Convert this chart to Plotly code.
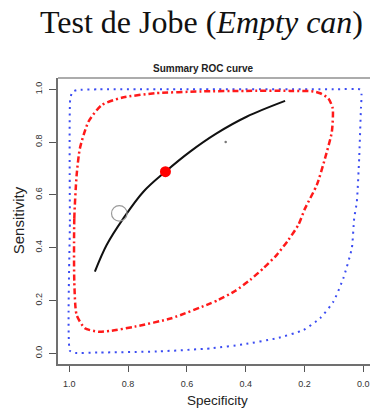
import plotly.graph_objects as go

# ---- data (specificity, sensitivity) ----
curve_spec = [0.913, 0.873, 0.816, 0.748, 0.673, 0.589, 0.499, 0.397, 0.266]
curve_sens = [0.309, 0.410, 0.511, 0.612, 0.688, 0.764, 0.833, 0.896, 0.956]

conf_spec = [0.983, 0.983, 0.975, 0.964, 0.935, 0.890, 0.822, 0.708, 0.550, 0.400, 0.250, 0.170,
             0.147, 0.119, 0.104, 0.107, 0.130, 0.158, 0.198, 0.221, 0.255, 0.295, 0.340, 0.385,
             0.436, 0.493, 0.522, 0.652, 0.777, 0.860, 0.901, 0.947, 0.975, 0.983]
conf_sens = [0.271, 0.511, 0.675, 0.776, 0.877, 0.940, 0.968, 0.985, 0.992, 0.994, 0.994, 0.992,
             0.985, 0.966, 0.928, 0.839, 0.739, 0.638, 0.549, 0.486, 0.429, 0.372, 0.322, 0.278,
             0.236, 0.202, 0.188, 0.133, 0.101, 0.085, 0.082, 0.095, 0.145, 0.271]

pred_spec = [0.998, 0.998, 0.997, 0.990, 0.975, 0.900, 0.500, 0.100, 0.010, 0.006, 0.008, 0.014,
             0.022, 0.031, 0.039, 0.068, 0.102, 0.147, 0.204, 0.295, 0.408, 0.516, 0.700, 0.900,
             0.985, 0.998]
pred_sens = [0.010, 0.500, 0.960, 0.990, 0.997, 1.000, 1.000, 1.000, 0.999, 0.980, 0.928, 0.739,
             0.574, 0.511, 0.398, 0.284, 0.195, 0.133, 0.088, 0.057, 0.034, 0.019, 0.007, 0.003,
             0.002, 0.010]

summary_point = (0.673, 0.688)
study_points_spec = [0.830, 0.468]
study_points_sens = [0.530, 0.800]

x_ticks = [1.0, 0.8, 0.6, 0.4, 0.2, 0.0]
y_ticks = [0.0, 0.2, 0.4, 0.6, 0.8, 1.0]

title_text = "Test de Jobe (<i>Empty can</i>)"
subtitle_text = "<b>Summary ROC curve</b>"
x_title = "Specificity"
y_title = "Sensitivity"

# ---- layout geometry ----
W, H = 370, 408
L, R, T, B = 58, 0, 78, 44
pw, ph = W - L - R, H - T - B


def px(x):
    return (x - L) / pw


def py(y):
    return (H - B - y) / ph


fig = go.Figure()

fig.add_trace(go.Scatter(x=pred_spec, y=pred_sens, mode="lines",
                         line=dict(color="#3b4cf2", width=2, dash="2px,4.6px", shape="spline", smoothing=0.5),
                         hoverinfo="skip", showlegend=False))
fig.add_trace(go.Scatter(x=conf_spec, y=conf_sens, mode="lines",
                         line=dict(color="#ff1a1a", width=2.5, dash="6px,3px,2px,3px", shape="spline", smoothing=0.6),
                         hoverinfo="skip", showlegend=False))
fig.add_trace(go.Scatter(x=curve_spec, y=curve_sens, mode="lines",
                         line=dict(color="#111111", width=2, shape="spline", smoothing=1.0),
                         hoverinfo="skip", showlegend=False))
fig.add_trace(go.Scatter(x=[study_points_spec[0]], y=[study_points_sens[0]], mode="markers",
                         marker=dict(symbol="circle-open", size=15.5, color="#9a9a9a", line=dict(width=1.2)),
                         showlegend=False))
fig.add_trace(go.Scatter(x=[study_points_spec[1]], y=[study_points_sens[1]], mode="markers",
                         marker=dict(symbol="circle", size=2.5, color="#777777"),
                         showlegend=False))
fig.add_trace(go.Scatter(x=[summary_point[0]], y=[summary_point[1]], mode="markers",
                         marker=dict(symbol="circle", size=11, color="#ff0000"),
                         showlegend=False))

axis_font = dict(family="Liberation Sans, Arial, sans-serif", size=9, color="#333333")

fig.update_xaxes(range=[1.0384, -0.0228], tickvals=x_ticks, ticktext=[f"{v:.1f}" for v in x_ticks],
                 showline=True, linecolor="#707070", linewidth=1.5, mirror=False,
                 ticks="outside", ticklen=6, tickwidth=1, tickcolor="#555555",
                 ticklabelstandoff=4, showgrid=False, zeroline=False, tickfont=axis_font)
fig.update_yaxes(range=[-0.0405, 1.0428], tickvals=y_ticks, ticktext=[f"{v:.1f}" for v in y_ticks],
                 showline=True, linecolor="#707070", linewidth=1.5, mirror=False,
                 ticks="outside", ticklen=7, tickwidth=1, tickcolor="#555555", tickangle=-90,
                 ticklabelstandoff=4, showgrid=False, zeroline=False, tickfont=axis_font)

fig.add_shape(type="line", xref="paper", yref="paper", x0=0, x1=1, y0=1, y1=1,
              line=dict(color="#909090", width=1.5))

fig.update_layout(
    width=W, height=H, margin=dict(l=L, r=R, t=T, b=B, pad=0),
    paper_bgcolor="white", plot_bgcolor="white",
    annotations=[
        dict(text=title_text, x=px(201), y=py(21.5), xref="paper", yref="paper",
             xanchor="center", yanchor="middle", showarrow=False,
             font=dict(family="Liberation Serif, Times New Roman, serif", size=32, color="#111111")),
        dict(text=subtitle_text, x=px(203), y=py(68.5), xref="paper", yref="paper",
             xanchor="center", yanchor="middle", showarrow=False,
             font=dict(family="Liberation Sans, Arial, sans-serif", size=10, color="#222222")),
        dict(text=y_title, x=px(18.3), y=py(220), xref="paper", yref="paper", textangle=-90,
             xanchor="center", yanchor="middle", showarrow=False,
             font=dict(family="Liberation Sans, Arial, sans-serif", size=15, color="#222222")),
        dict(text=x_title, x=px(217), y=py(400.5), xref="paper", yref="paper",
             xanchor="center", yanchor="middle", showarrow=False,
             font=dict(family="Liberation Sans, Arial, sans-serif", size=13.5, color="#222222")),
    ],
)

fig.write_html("out.html")
